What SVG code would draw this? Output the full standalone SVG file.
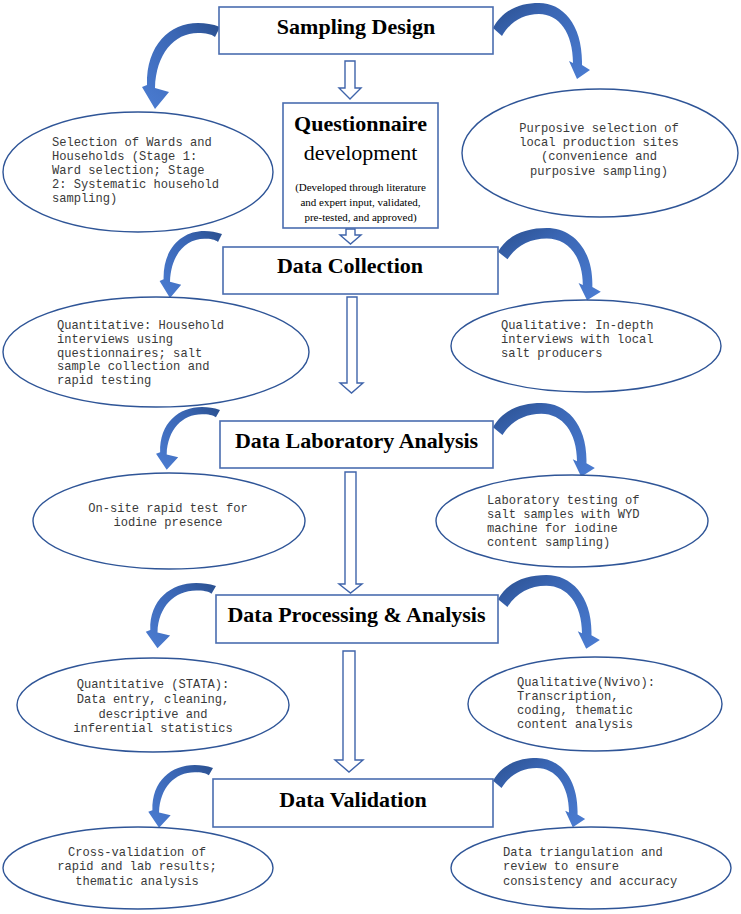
<svg xmlns="http://www.w3.org/2000/svg" width="741" height="914" viewBox="0 0 741 914">
<style>
.box{fill:#fff;stroke:#4A6DB0;stroke-width:1.6}
.ell{fill:#fff;stroke:#2F5597;stroke-width:1.4}
.blk{fill:#fff;stroke:#3F64AA;stroke-width:1.4}
.title{font-family:"Liberation Serif","Times New Roman",serif;font-weight:bold;font-size:22px;fill:#000;text-anchor:middle}
.mono{font-family:"Liberation Mono","Courier New",monospace;font-size:12.1px;fill:#3a3a3a}
.mid{text-anchor:middle}
.sub{font-family:"Liberation Serif","Times New Roman",serif;font-size:11px;fill:#000;text-anchor:middle}
.dev{font-family:"Liberation Serif","Times New Roman",serif;font-size:22px;fill:#000;text-anchor:middle}
.la{fill:url(#gl)}
.ra{fill:url(#gr)}
</style>
<defs>
<linearGradient id="gl" x1="1" y1="0" x2="0.1" y2="1">
<stop offset="0" stop-color="#2A4F8E"/>
<stop offset="0.35" stop-color="#3A66B4"/>
<stop offset="1" stop-color="#4A7BD0"/>
</linearGradient>
<linearGradient id="gr" x1="0" y1="0" x2="0.9" y2="1">
<stop offset="0" stop-color="#2A4F8E"/>
<stop offset="0.35" stop-color="#3A66B4"/>
<stop offset="1" stop-color="#4A7BD0"/>
</linearGradient>
<path id="cl" d="M0,4 C-8,1 -14,0 -22,0 C-50,0 -74,22 -73,62 L-78,64 L-65,86 L-51,69 L-65,65 C-64,31 -46,10 -22,10 C-14,10 -9,11 -5,14 Z"/>
<path id="cr" d="M0,25 C10,6 28,0 46,0 C70,0 90,22 89,62 L97,67 L84,76 L76,58 L80,60 C80,30 66,11 46,11 C30,11 17,19 9,33 Z"/>
</defs>
<rect width="741" height="914" fill="#fff"/>

<g id="connectors">
<path class="blk" d="M345,61 L355,61 L355,88 L361,88 L350,99 L339,88 L345,88 Z"/>
<path class="blk" d="M346,229 L355,229 L355,235 L361,235 L350.5,244 L340,235 L346,235 Z"/>
<path class="blk" d="M347,297 L357,297 L357,383 L363,383 L351.5,393 L340,383 L347,383 Z"/>
<path class="blk" d="M345,472 L356,472 L356,584 L362,584 L350.5,593 L339,584 L345,584 Z"/>
<path class="blk" d="M343,651 L355,651 L355,760 L363,760 L349,772 L335,760 L343,760 Z"/>
<use href="#cl" class="la" transform="translate(220,23) scale(1,1)"/>
<use href="#cr" class="ra" transform="translate(493,3) scale(1,1)"/>
<use href="#cl" class="la" transform="translate(222,231) scale(0.8,0.78)"/>
<use href="#cr" class="ra" transform="translate(498,228) scale(1.06,0.95)"/>
<use href="#cl" class="la" transform="translate(220,407) scale(0.82,0.73)"/>
<use href="#cr" class="ra" transform="translate(493,403) scale(1.05,0.97)"/>
<use href="#cl" class="la" transform="translate(216,583) scale(0.9,0.76)"/>
<use href="#cr" class="ra" transform="translate(498,575) scale(1.05,0.97)"/>
<use href="#cl" class="la" transform="translate(213,765) scale(0.83,0.73)"/>
<use href="#cr" class="ra" transform="translate(493,758) scale(0.95,0.91)"/>
</g>

<g id="sampling-design">
<rect class="box" x="219" y="7" width="274" height="47"/>
<text class="title" x="356" y="34">Sampling Design</text>
</g>

<g id="questionnaire">
<rect class="box" x="283" y="103" width="155" height="125"/>
<text class="title" x="360.5" y="131">Questionnaire</text>
<text class="dev" x="360.5" y="160">development</text>
<text class="sub" x="360.5" y="191">(Developed through literature</text>
<text class="sub" x="360.5" y="206">and expert input, validated,</text>
<text class="sub" x="360.5" y="221">pre-tested, and approved)</text>
</g>

<g id="data-collection">
<rect class="box" x="223" y="247" width="275" height="47"/>
<text class="title" x="350" y="273">Data Collection</text>
</g>

<g id="data-lab">
<rect class="box" x="220" y="421" width="273" height="47"/>
<text class="title" x="356.5" y="448">Data Laboratory Analysis</text>
</g>

<g id="data-processing">
<rect class="box" x="216" y="595" width="282" height="48"/>
<text class="title" x="356.5" y="622">Data Processing &amp; Analysis</text>
</g>

<g id="data-validation">
<rect class="box" x="213" y="779" width="280" height="48"/>
<text class="title" x="353" y="807">Data Validation</text>
</g>

<g id="sel-wards">
<ellipse class="ell" cx="138" cy="172" rx="135" ry="60"/>
<text class="mono" x="52" y="146">Selection of Wards and</text>
<text class="mono" x="52" y="160">Households (Stage 1:</text>
<text class="mono" x="52" y="174">Ward selection; Stage</text>
<text class="mono" x="52" y="188">2: Systematic household</text>
<text class="mono" x="52" y="202">sampling)</text>
</g>

<g id="purposive">
<ellipse class="ell" cx="600" cy="153" rx="138" ry="64"/>
<text class="mono mid" x="599" y="132">Purposive selection of</text>
<text class="mono mid" x="599" y="146">local production sites</text>
<text class="mono mid" x="599" y="160">(convenience and</text>
<text class="mono mid" x="599" y="175">purposive sampling)</text>
</g>

<g id="quantitative-collection">
<ellipse class="ell" cx="156" cy="352" rx="153" ry="55"/>
<text class="mono" x="57" y="329">Quantitative: Household</text>
<text class="mono" x="57" y="343">interviews using</text>
<text class="mono" x="57" y="357">questionnaires; salt</text>
<text class="mono" x="57" y="370">sample collection and</text>
<text class="mono" x="57" y="384">rapid testing</text>
</g>

<g id="qualitative-collection">
<ellipse class="ell" cx="586" cy="346" rx="135" ry="46"/>
<text class="mono" x="501" y="329">Qualitative: In-depth</text>
<text class="mono" x="501" y="343">interviews with local</text>
<text class="mono" x="501" y="357">salt producers</text>
</g>

<g id="rapid-test">
<ellipse class="ell" cx="169" cy="521" rx="136" ry="48"/>
<text class="mono mid" x="168" y="512">On-site rapid test for</text>
<text class="mono mid" x="168" y="526">iodine presence</text>
</g>

<g id="lab-testing">
<ellipse class="ell" cx="572" cy="521" rx="136" ry="46"/>
<text class="mono" x="487" y="504">Laboratory testing of</text>
<text class="mono" x="487" y="518">salt samples with WYD</text>
<text class="mono" x="487" y="532">machine for iodine</text>
<text class="mono" x="487" y="546">content sampling)</text>
</g>

<g id="stata">
<ellipse class="ell" cx="153" cy="705" rx="136" ry="47"/>
<text class="mono mid" x="153" y="688">Quantitative (STATA):</text>
<text class="mono mid" x="153" y="703">Data entry, cleaning,</text>
<text class="mono mid" x="153" y="718">descriptive and</text>
<text class="mono mid" x="153" y="732">inferential statistics</text>
</g>

<g id="nvivo">
<ellipse class="ell" cx="595" cy="704" rx="127" ry="47"/>
<text class="mono" x="517" y="686">Qualitative(Nvivo):</text>
<text class="mono" x="517" y="700">Transcription,</text>
<text class="mono" x="517" y="714">coding, thematic</text>
<text class="mono" x="517" y="728">content analysis</text>
</g>

<g id="cross-validation">
<ellipse class="ell" cx="138" cy="868" rx="135" ry="41"/>
<text class="mono mid" x="137" y="856">Cross-validation of</text>
<text class="mono mid" x="137" y="870">rapid and lab results;</text>
<text class="mono mid" x="137" y="885">thematic analysis</text>
</g>

<g id="triangulation">
<ellipse class="ell" cx="591" cy="868" rx="140" ry="41"/>
<text class="mono" x="503" y="856">Data triangulation and</text>
<text class="mono" x="503" y="870">review to ensure</text>
<text class="mono" x="503" y="885">consistency and accuracy</text>
</g>
</svg>
